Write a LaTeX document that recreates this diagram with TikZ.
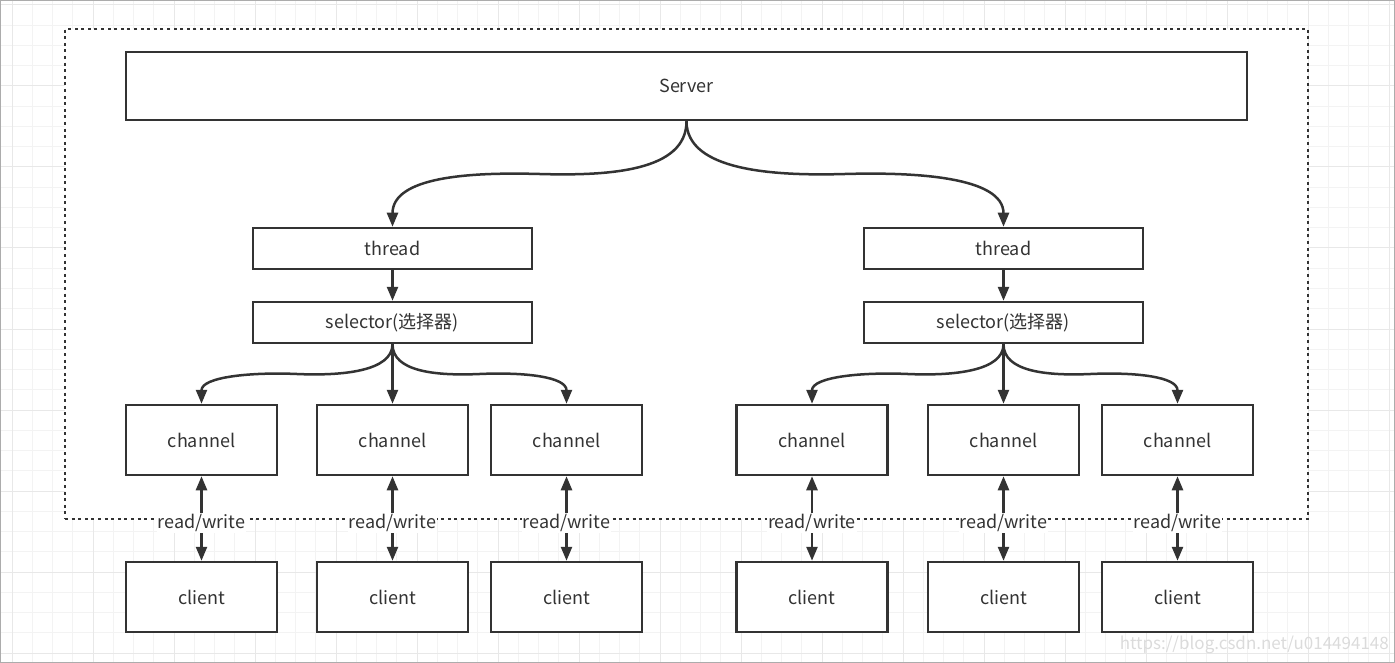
\documentclass[tikz,border=0pt]{standalone}
\usepackage{fontspec}
\setmainfont{Noto Sans CJK SC}
\usetikzlibrary{arrows.meta,calc}
\definecolor{ink}{HTML}{333333}
\definecolor{gridminor}{HTML}{F3F3F3}
\definecolor{gridmajor}{HTML}{E8E8E8}
\tikzset{
  box/.style={draw=ink, line width=2.5pt, fill=white, text=ink, font=\fontsize{18}{20}\selectfont, inner sep=0pt},
  bigbox/.style={box, minimum width=1121pt, minimum height=68pt},
  midbox/.style={box, minimum width=279pt, minimum height=41pt},
  smallbox/.style={box, minimum width=151pt, minimum height=70pt},
  conn/.style={draw=ink, line width=2.5pt, -{Triangle[length=14pt,width=11pt]}},
  biconn/.style={draw=ink, line width=2.5pt, {Triangle[length=14pt,width=11pt]}-{Triangle[length=14pt,width=11pt]}},
  rwlabel/.style={fill=white, text=ink, font=\fontsize{18}{20}\selectfont, inner sep=1pt},
}
\newcommand\wavyarrow[4]{%
  \draw[conn] (#1.south) .. controls +(0,#4) and +(#3,2) ..
    ($(#1.south)!0.5!(#2.north)$) .. controls +(-#3,-2) and +(0,-#4) .. (#2.north);}
\begin{document}
\begin{tikzpicture}[x=1pt,y=-1pt]
\useasboundingbox (0,0) rectangle (1395,663);
% grid
\begin{scope}
\clip (1,1) rectangle (1394,662);
\foreach \i in {0,...,69} {
  \draw[gridminor, line width=1pt] ({12+20.25*\i},0) -- ({12+20.25*\i},663);
}
\foreach \j in {0,...,33} {
  \draw[gridminor, line width=1pt] (0,{5+20.25*\j}) -- (1395,{5+20.25*\j});
}
\foreach \i in {0,...,17} {
  \draw[gridmajor, line width=1pt] ({12+81*\i},0) -- ({12+81*\i},663);
}
\foreach \j in {0,...,8} {
  \draw[gridmajor, line width=1pt] (0,{5+81*\j}) -- (1395,{5+81*\j});
}
\end{scope}
\draw[gray!65, line width=1pt] (0.5,0.5) rectangle (1394.5,662.5);
% dotted frame
\node[draw=ink, line width=2.8pt, dash pattern=on 3pt off 3.6pt, fill=white,
  minimum width=1243pt, minimum height=490pt, inner sep=0pt] (frame) at (686.5,274) {};
% nodes
\node[bigbox] (server) at (686.5,86) {Server};
\node[midbox] (threadL) at (392.5,248.5) {thread};
\node[midbox] (selL) at (392.5,322.5) {selector(选择器)};
\node[midbox] (threadR) at (1003.5,248.5) {thread};
\node[midbox] (selR) at (1003.5,322.5) {selector(选择器)};
\foreach \n/\x in {1/201.5,2/392.5,3/566.5,4/812,5/1003.5,6/1177.5} {
  \node[smallbox] (ch\n) at (\x,440) {channel};
  \node[smallbox] (cl\n) at (\x,597) {client};
  \draw[biconn] (ch\n.south) -- node[rwlabel, pos=0.5, yshift=-4.5pt] (rw\n) {read/write} (cl\n.north);
}
% connectors
\wavyarrow{server}{threadL}{70}{50}
\wavyarrow{server}{threadR}{-70}{50}
\draw[conn] (threadL) -- (selL);
\draw[conn] (threadR) -- (selR);
\wavyarrow{selL}{ch1}{45}{27}
\draw[conn] (selL) -- (ch2);
\wavyarrow{selL}{ch3}{-45}{27}
\wavyarrow{selR}{ch4}{45}{27}
\draw[conn] (selR) -- (ch5);
\wavyarrow{selR}{ch6}{-45}{27}
% watermark
\node[text=gray!28, font=\fontsize{17}{20}\selectfont, anchor=east, inner sep=0pt] (wm) at (1389,645) {https://blog.csdn.net/u014494148};
\end{tikzpicture}
\end{document}
